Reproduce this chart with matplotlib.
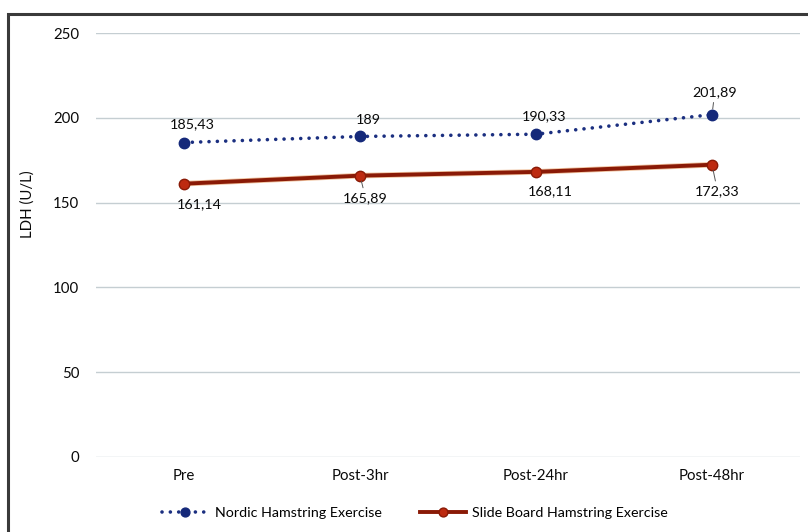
import matplotlib.pyplot as plt
from matplotlib.patches import Rectangle

plt.rcParams['font.family'] = ['Lato', 'DejaVu Sans']

momentos = ["Pre", "Post-3hr", "Post-24hr", "Post-48hr"]
nordic = [185.43, 189, 190.33, 201.89]
slide = [161.14, 165.89, 168.11, 172.33]

# desplazamiento de cada etiqueta respecto a su punto (en puntos tipograficos)
desp_nordic = [(6, 13), (6, 12), (6, 13), (2, 16)]
desp_slide = [(11, -15), (4, -16), (10, -14), (4, -19)]
guia_nordic = [False, False, False, True]
guia_slide = [False, True, False, True]


def etiqueta(valor):
    return f"{valor:g}".replace(".", ",")


fig = plt.figure(figsize=(8.08, 5.32), dpi=100)
fig.patch.set_facecolor("white")

# marco del grafico
fig.patches.append(Rectangle((8 / 808, -0.1), 1.2, 518 / 532 + 0.1,
                             transform=fig.transFigure, fill=False,
                             edgecolor="#3a3a3a", linewidth=2.2))

ax = fig.add_axes([96 / 808, 75 / 532, 704 / 808, 424 / 532])

x = list(range(len(momentos)))

ax.plot(x, nordic, color="#1b2f80", linewidth=2.6,
        linestyle=(0, (0.01, 2.3)), dash_capstyle="round",
        marker="o", markersize=7.5, markerfacecolor="#15297a",
        markeredgecolor="#15297a", zorder=4,
        label="Nordic Hamstring Exercise")

ax.plot(x, slide, color="#e39050", linewidth=4.0, solid_capstyle="round",
        alpha=0.55, zorder=2)
ax.plot(x, slide, color="#8a1a06", linewidth=2.8, marker="o",
        markersize=7.5, markerfacecolor="#bd2a10", markeredgecolor="#8a1a06",
        zorder=3, label="Slide Board Hamstring Exercise")

for i, v in enumerate(nordic):
    props = dict(arrowstyle="-", color="#555555", lw=0.7,
                 shrinkA=1, shrinkB=4) if guia_nordic[i] else None
    ax.annotate(etiqueta(v), (i, v), xytext=desp_nordic[i],
                textcoords="offset points", ha="center", va="center",
                fontsize=10.3, color="#0a0a0a", arrowprops=props)

for i, v in enumerate(slide):
    props = dict(arrowstyle="-", color="#555555", lw=0.7,
                 shrinkA=1, shrinkB=4) if guia_slide[i] else None
    ax.annotate(etiqueta(v), (i, v), xytext=desp_slide[i],
                textcoords="offset points", ha="center", va="center",
                fontsize=10.3, color="#0a0a0a", arrowprops=props)

ax.set_xlim(-0.5, len(momentos) - 0.5)
ax.set_ylim(0, 250)
ax.set_yticks(range(0, 251, 50))
ax.set_xticks(x)
ax.set_xticklabels(momentos)

ax.grid(axis="y", color="#c5ced2", linewidth=1)
ax.set_axisbelow(True)
for lado in ax.spines.values():
    lado.set_visible(False)
ax.tick_params(axis="both", length=0, labelsize=10.8, colors="#0a0a0a")
ax.tick_params(axis="y", pad=12)
ax.tick_params(axis="x", pad=9)

ax.set_ylabel("LDH (U/L)", fontsize=10.8, color="#0a0a0a")
ax.yaxis.set_label_coords(-0.087, 0.597)

fig.legend(loc="center", bbox_to_anchor=(0.514, 0.036), ncol=2,
           frameon=False, fontsize=10.3, handlelength=3.2,
           columnspacing=2.7, handletextpad=0.45, markerscale=0.85)

fig.savefig("out.png", dpi=100)
